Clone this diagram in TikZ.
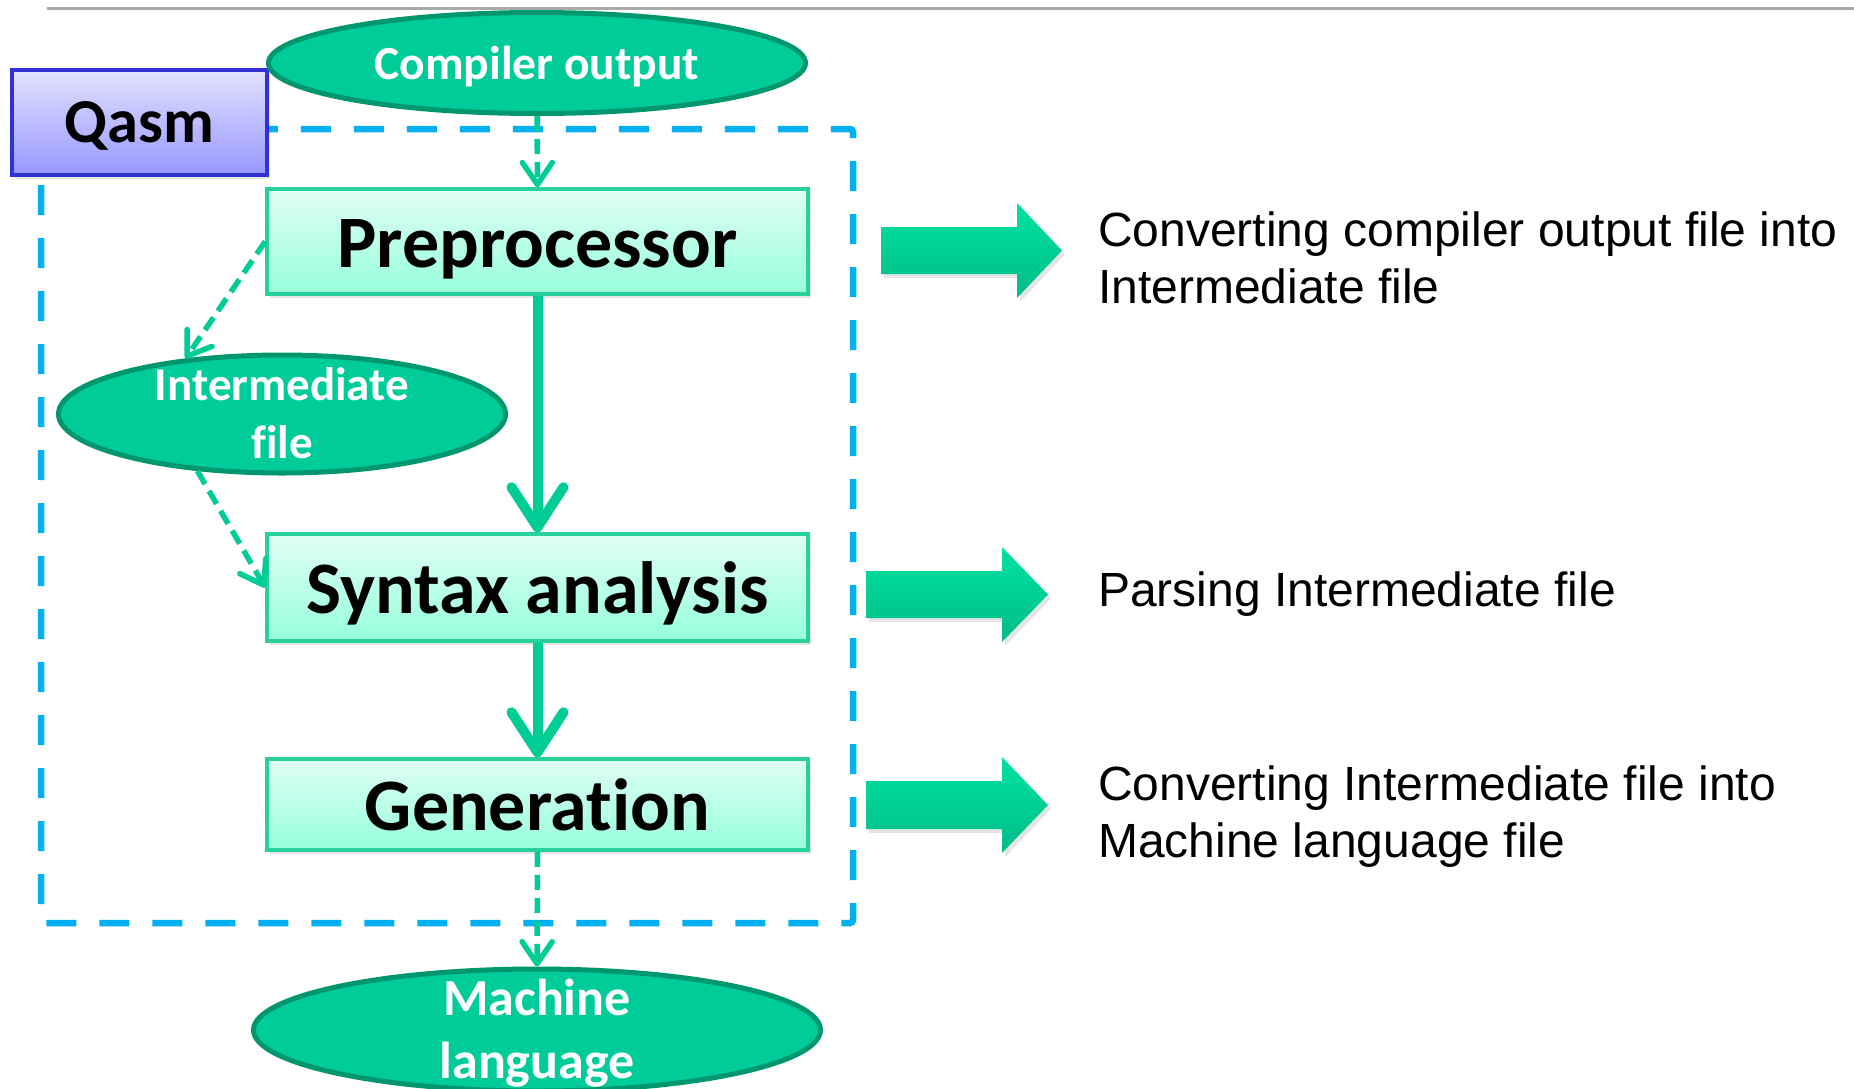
\documentclass[tikz,border=0pt]{standalone}
\usepackage{fontspec}
\setmainfont{Liberation Sans}
\newfontfamily\calfont{Carlito}[Ligatures=NoCommon]
\usetikzlibrary{arrows.meta,shapes.geometric,shadows}

\definecolor{rulegray}{RGB}{170,170,170}
\definecolor{frameblue}{RGB}{0,176,240}
\definecolor{flowgreen}{RGB}{0,204,150}
\definecolor{ellfill}{RGB}{0,204,153}
\definecolor{ellline}{RGB}{0,150,110}
\definecolor{boxline}{RGB}{40,208,158}
\definecolor{boxtop}{RGB}{224,255,242}
\definecolor{boxbot}{RGB}{150,255,218}
\definecolor{qtop}{RGB}{226,226,255}
\definecolor{qbot}{RGB}{150,150,255}
\definecolor{qline}{RGB}{50,50,210}
\definecolor{bigtop}{RGB}{0,226,162}
\definecolor{bigbot}{RGB}{0,188,136}

\begin{document}
\begin{tikzpicture}[x=1pt,y=-1pt,
  stagebox/.style={draw=boxline, line width=3.5pt, top color=boxtop, bottom color=boxbot,
    minimum width=541pt, inner sep=0pt, text height=51.6pt, text depth=0pt,
    font=\calfont\bfseries\fontsize{74}{88}\selectfont,
    drop shadow={shadow xshift=3pt, shadow yshift=-4pt, opacity=0.2}},
  qbox/.style={draw=qline, line width=3.5pt, top color=qtop, bottom color=qbot,
    minimum width=255pt, minimum height=105pt, inner sep=0pt,
    text height=40pt, text depth=0pt,
    font=\calfont\bfseries\fontsize{62.5}{75}\selectfont,
    drop shadow={shadow xshift=3pt, shadow yshift=-4pt, opacity=0.2}},
  fileell/.style={ellipse, draw=ellline, line width=5pt, fill=ellfill, inner sep=0pt},
  filetxt/.style={text=white, align=center, anchor=base, inner sep=0pt},
  flow/.style={draw=flowgreen, line width=10pt,
    -{Straight Barb[length=40pt,width=52pt,round]}},
  flowdash/.style={draw=flowgreen, line width=5.5pt, dash pattern=on 15pt off 8pt,
    -{Straight Barb[length=22pt,width=30pt,round]}},
  desc/.style={font=\fontsize{48}{57}\selectfont, align=left, inner sep=0pt, anchor=base west},
  bigarrow/.style={top color=bigtop, bottom color=bigbot}
]
\useasboundingbox (0,0) rectangle (1854,1088);
\fill[white] (0,0) rectangle (1854,1088);

% rule along the top
\draw[rulegray, line width=3pt] (47,8) -- (1854,8);

% dashed frame grouping the Qasm stages
\draw[frameblue, line width=6.5pt, dash pattern=on 30pt off 23pt, rounded corners=3pt]
  (41,129) rectangle (853,923);

% tool label
\node[qbox] (qasm) at (139.5,122.5) {Qasm};

% input and output files (the last line of each label sits on its base point)
\node[fileell, minimum width=537pt, minimum height=101pt] (cout) at (537,63) {};
\node[filetxt, font=\calfont\bfseries\fontsize{47.5}{58}\selectfont] (cout-t)
  at ([yshift=-16pt]cout.center) {Compiler output};

\node[fileell, minimum width=447pt, minimum height=118pt] (imf) at (282,414) {};
\node[filetxt, font=\calfont\bfseries\fontsize{47}{58}\selectfont] (imf-t)
  at ([yshift=-44pt]imf.center) {Intermediate\\file};

\node[fileell, minimum width=567pt, minimum height=122pt] (mach) at (537,1030) {};
\node[filetxt, font=\calfont\bfseries\fontsize{52}{63}\selectfont] (mach-t)
  at ([yshift=-48pt]mach.center) {Machine\\language};

% processing stages
\node[stagebox, minimum height=105pt] (pre) at (537.5,241.5) {Preprocessor};
\node[stagebox, minimum height=107pt] (syn) at (537.5,587.5) {Syntax analysis};
\node[stagebox, minimum height=91pt]  (gen) at (537.5,804.5) {Generation};

% flow between stages
\draw[flow] (pre.south) -- (syn.north);
\draw[flow] (syn.south) -- (gen.north);
\draw[flowdash] (cout.south) -- (pre.north);
\draw[flowdash] (pre.west) -- (imf.150);
\draw[flowdash] (imf.214) -- (syn.west);
\draw[flowdash] (gen.south) -- (mach.north);

% block arrows towards the descriptions
\foreach \ys/\yh/\yt/\xs/\xh/\xt in {227/203/250.5/881/1017/1062,
                                      571/547/594.5/866/1002/1048,
                                      781/757/805/866/1002/1048}{
  \pgfmathsetmacro{\yb}{2*\yt-\ys}
  \pgfmathsetmacro{\yhb}{2*\yt-\yh}
  \fill[black, opacity=0.1] (\xs+3,\ys+4) -- (\xh+3,\ys+4) -- (\xh+3,\yh+4)
    -- (\xt+3,\yt+4) -- (\xh+3,\yhb+4) -- (\xh+3,\yb+4) -- (\xs+3,\yb+4) -- cycle;
  \shade[bigarrow] (\xs,\ys) -- (\xh,\ys) -- (\xh,\yh) -- (\xt,\yt) -- (\xh,\yhb)
    -- (\xh,\yb) -- (\xs,\yb) -- cycle;
}

% descriptions (base point = baseline of the last line)
\node[desc] (d-pre) at (1098,303) {Converting compiler output file into\\Intermediate file};
\node[desc] (d-syn) at (1098,606) {Parsing Intermediate file};
\node[desc] (d-gen) at (1098,857) {Converting Intermediate file into\\Machine language file};
\end{tikzpicture}
\end{document}
